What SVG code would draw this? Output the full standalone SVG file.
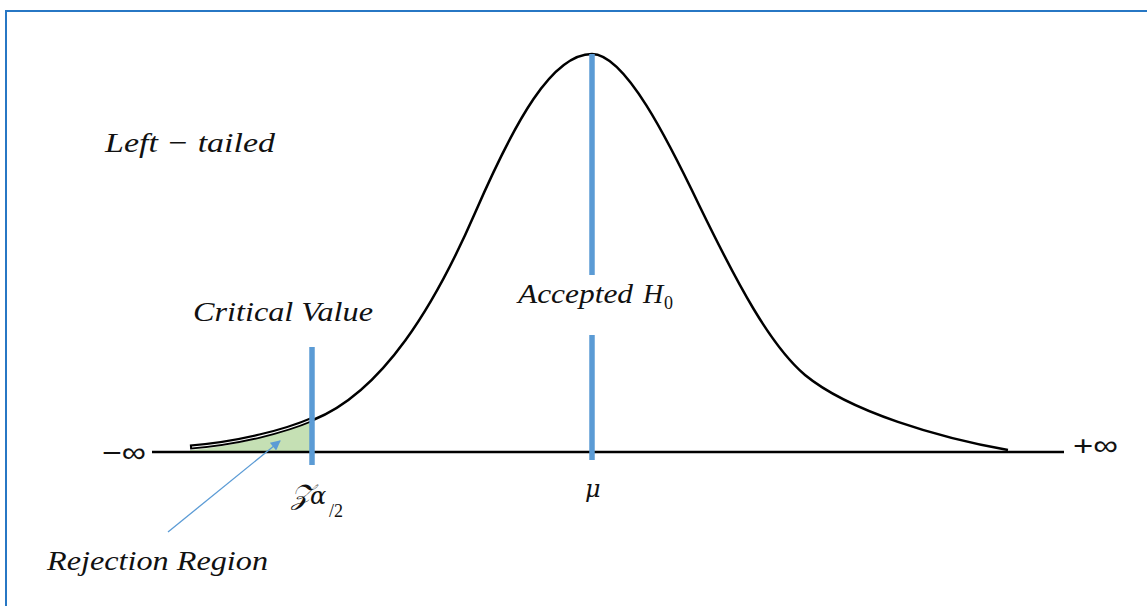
<svg xmlns="http://www.w3.org/2000/svg" width="1147" height="606" viewBox="0 0 1147 606">
<style>
  .lbl { font-family: "Liberation Serif", "Times New Roman", serif; font-style: italic; font-size: 28px; fill: #111; }
  .greek { font-family: "DejaVu Serif", "Liberation Serif", serif; font-style: italic; font-size: 24px; fill: #111; }
  .sym { font-family: "Liberation Sans", Arial, sans-serif; font-size: 28px; fill: #111; }
  .blue { stroke: #5B9BD5; stroke-width: 5.5; fill: none; }
  .ink { stroke: #000; fill: none; stroke-linecap: butt; }
</style>
<defs>
  <marker id="arrowHead" viewBox="0 0 10 10" refX="9" refY="5" markerWidth="12" markerHeight="10" markerUnits="userSpaceOnUse" orient="auto">
    <path d="M0,0 L10,5 L0,10 Z" fill="#5B9BD5"/>
  </marker>
</defs>
<rect x="0" y="0" width="1147" height="606" fill="#fff"/>
<rect id="frame" x="6" y="11" width="1160" height="620" fill="none" stroke="#2777C4" stroke-width="2"/>

<g id="rejection-region">
  <path d="M190,450 C240,446 285,432 313,420 L313,452 L190,452 Z" fill="#C5E0B4"/>
</g>

<g id="axis">
  <line class="ink" x1="152" y1="452" x2="1064" y2="452" stroke-width="2.5"/>
</g>

<g id="curve">
  <path class="ink" stroke-width="2.5" d="M313,420 C383,392 435,305 475,213 C515,121 552,54 592,54 C625,54 668,140 700,207 C738,285 770,345 805,375 C850,412 940,438 1008,450"/>
  <path class="ink" stroke-width="5" d="M190,447 C240,443 285,431 313,419"/>
  <path stroke="#fff" stroke-width="1.1" fill="none" d="M192,447 C240,443 285,431 311,420"/>
</g>

<g id="critical-line">
  <line class="blue" x1="312" y1="347" x2="312" y2="465"/>
</g>

<g id="mean-line">
  <line class="blue" x1="592" y1="54" x2="592" y2="275"/>
  <line class="blue" x1="592" y1="335" x2="592" y2="460"/>
</g>

<g id="connectors">
  <line x1="168" y1="532" x2="280" y2="441" stroke="#5B9BD5" stroke-width="1.3" marker-end="url(#arrowHead)"/>
</g>

<g id="label-left-tailed">
  <text class="lbl" x="105" y="152" textLength="170" lengthAdjust="spacingAndGlyphs">Left − tailed</text>
</g>
<g id="label-critical-value">
  <text class="lbl" x="193" y="321" textLength="180" lengthAdjust="spacingAndGlyphs">Critical Value</text>
</g>
<g id="label-accepted">
  <text class="lbl" x="518" y="303"><tspan textLength="115" lengthAdjust="spacingAndGlyphs">Accepted</tspan><tspan x="643">H</tspan><tspan x="664" y="309" font-style="normal" font-size="18">0</tspan></text>
</g>
<g id="label-rejection">
  <text class="lbl" x="47" y="570" textLength="221" lengthAdjust="spacingAndGlyphs">Rejection Region</text>
</g>
<g id="label-minus-inf">
  <text class="sym" x="102" y="462" textLength="44" lengthAdjust="spacingAndGlyphs">−∞</text>
</g>
<g id="label-plus-inf">
  <text class="sym" x="1073" y="455" textLength="45" lengthAdjust="spacingAndGlyphs">+∞</text>
</g>
<g id="label-z">
  <text class="lbl" x="291" y="504"><tspan font-family="'DejaVu Serif', 'Liberation Serif', serif">𝒵</tspan><tspan class="greek" x="310">α</tspan><tspan x="329" y="517" font-style="normal" font-size="18">/2</tspan></text>
</g>
<g id="label-mu">
  <text class="greek" x="585" y="497">μ</text>
</g>
</svg>
